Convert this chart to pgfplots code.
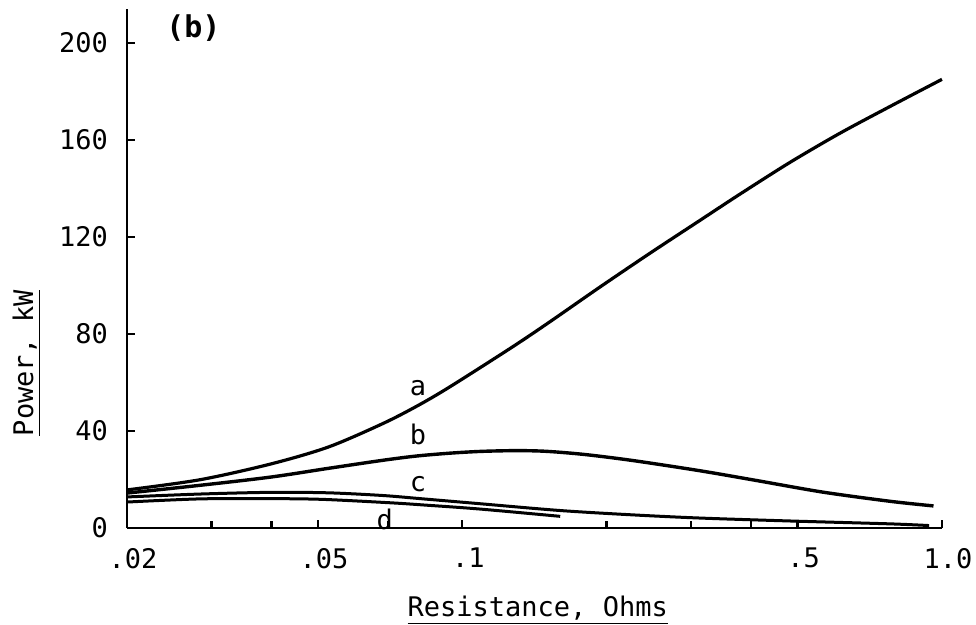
\documentclass[border=0pt]{standalone}
\usepackage{pgfplots}
\pgfplotsset{compat=1.18}
\usepackage{fontspec}
\setmainfont{DejaVu Sans Mono}
\newcommand{\lf}{\fontsize{13.5}{16}\selectfont}
\begin{document}
\begin{tikzpicture}
\begin{axis}[
  scale only axis,
  width=407.5pt, height=259.5pt,
  xmode=log,
  xmin=0.02, xmax=1,
  ymin=0, ymax=214,
  axis x line=bottom, axis y line=left,
  axis line style={line width=1.4pt, -},
  tick align=inside,
  major tick length=4pt, minor tick length=3.5pt,
  tick style={line width=1.2pt, black},
  xtick={0.02,0.05,0.1,0.5,1},
  xticklabels={.02,.05,.1,.5,1.0},
  minor xtick={0.03,0.04,0.07,0.2,0.3,0.4},
  ytick={0,40,80,120,160,200},
  /pgf/number format/assume math mode=true,
  tick label style={font=\lf},
  yticklabel style={xshift=-6pt},
  xticklabel style={yshift=-6.5pt, xshift=3pt},
  clip=false,
]
\addplot[black, line width=1.6pt, smooth] coordinates {
 (0.02,15.7) (0.0284,19.9) (0.0399,26.4) (0.0526,33.4) (0.0682,43.0)
 (0.0805,50.3) (0.0942,58.2) (0.1271,74.6) (0.1522,85.0) (0.1935,99.3)
 (0.2462,113.3) (0.3133,126.9) (0.3788,137.6) (0.4807,150.6) (0.6106,162.6)
 (0.7758,173.6) (1.0,185.0)
};
\addplot[black, line width=1.7pt, smooth] coordinates {
 (0.02,14.4) (0.0284,17.6) (0.0399,21.0) (0.0526,24.6) (0.0682,27.9)
 (0.0805,29.7) (0.095,30.9) (0.110,31.6) (0.130,31.9) (0.150,31.6)
 (0.180,30.3) (0.227,27.8) (0.313,23.6) (0.410,19.6) (0.564,14.8)
 (0.78,11.0) (0.96,9.1)
};
\addplot[black, line width=1.5pt, smooth] coordinates {
 (0.02,12.8) (0.0284,14.0) (0.0399,14.7) (0.0526,14.5) (0.0682,13.4)
 (0.0829,12.0) (0.109,10.0) (0.16,7.2) (0.227,5.4) (0.313,4.1)
 (0.48,2.9) (0.78,1.7) (0.94,1.0)
};
\addplot[black, line width=1.5pt, smooth] coordinates {
 (0.02,10.7) (0.0284,12.0) (0.0399,12.1) (0.0511,11.8) (0.0707,10.4)
 (0.0829,9.5) (0.109,7.8) (0.16,4.8)
};
\node[font=\lf] at (axis cs:0.0808,57.7) {a};
\node[font=\lf] at (axis cs:0.0808,38.4) {b};
\node[font=\lf] at (axis cs:0.0808,18.1) {c};
\node[font=\lf] at (axis cs:0.0689,3.7) {d};
\node[font=\fontsize{15}{17}\selectfont\bfseries] at (axis cs:0.0275,206) {(b)};
\node[font=\lf, anchor=base] at (rel axis cs:0.504,0) [yshift=-44.5pt] {\underline{Resistance, Ohms}};
\node[font=\lf, rotate=90, anchor=base] at (rel axis cs:-0.1153,0.318) {\underline{Power, kW}};
\end{axis}
\pgfresetboundingbox
\useasboundingbox (-63.5pt,-48.5pt) rectangle (424.5pt,264pt);
\end{tikzpicture}
\end{document}
